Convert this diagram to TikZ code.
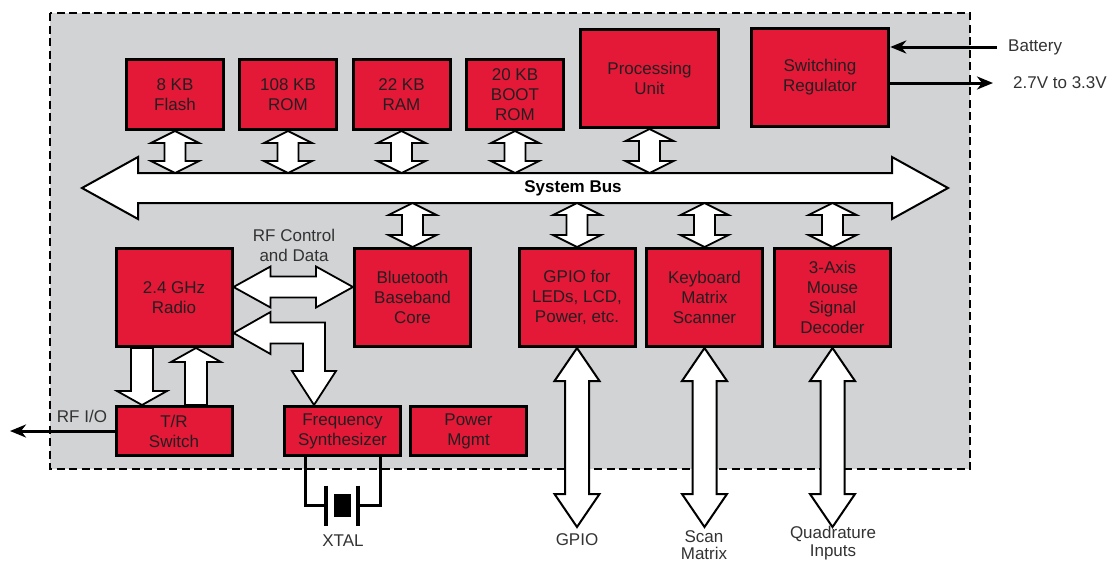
\documentclass[tikz,border=0pt]{standalone}
\usepackage{fontspec}
\setmainfont{Liberation Sans}
\usetikzlibrary{positioning,calc,arrows.meta,backgrounds}
\definecolor{chipgray}{RGB}{209,211,212}
\definecolor{blockred}{RGB}{228,24,55}
\definecolor{inkdark}{RGB}{35,31,32}
\tikzset{>={Stealth[length=16pt,width=13pt,inset=5pt]}}
\tikzset{
  link head/.store in=\linkhead, link tip/.store in=\linktip, link shaft/.store in=\linkshaft,
  link head=24pt, link tip=12pt, link shaft=10.5pt,
  block/.style={draw=black,fill=blockred,line width=3pt,inner sep=0pt,align=center,text=inkdark},
  topbox/.style={block,minimum width=97pt,minimum height=70pt},
  bigbox/.style={block,minimum width=137.5pt,minimum height=98pt},
  midbox/.style={block,minimum width=116pt,minimum height=98pt},
  lowbox/.style={block,minimum width=116pt,minimum height=49pt},
  outtext/.style={inner sep=0pt,align=center,text=black!80},
  chip frame/.style={fill=chipgray,draw=black,line width=2.4pt,dash pattern=on 8pt off 4.5pt},
  wire/.style={draw=black,line width=3pt},
  plate/.style={draw=black,line width=3.5pt},
  link body/.style={draw=black,fill=white,line width=1.8pt,line join=miter},
  vlink/.style={link body,
    to path={let \p1=(\tikztostart), \p2=(\tikztotarget) in
      -- (\x1+\linkhead,\y1-\linktip) -- (\x1+\linkshaft,\y1-\linktip)
      -- (\x1+\linkshaft,\y2+\linktip) -- (\x1+\linkhead,\y2+\linktip)
      -- (\x1,\y2) -- (\x1-\linkhead,\y2+\linktip) -- (\x1-\linkshaft,\y2+\linktip)
      -- (\x1-\linkshaft,\y1-\linktip) -- (\x1-\linkhead,\y1-\linktip) -- cycle}},
  hlink/.style={link body,
    to path={let \p1=(\tikztostart), \p2=(\tikztotarget) in
      -- (\x1+\linktip,\y1+\linkhead) -- (\x1+\linktip,\y1+\linkshaft)
      -- (\x2-\linktip,\y1+\linkshaft) -- (\x2-\linktip,\y1+\linkhead)
      -- (\x2,\y1) -- (\x2-\linktip,\y1-\linkhead) -- (\x2-\linktip,\y1-\linkshaft)
      -- (\x1+\linktip,\y1-\linkshaft) -- (\x1+\linktip,\y1-\linkhead) -- cycle}},
  vsingle/.style={link body,
    to path={let \p1=(\tikztostart), \p2=(\tikztotarget), \n1={ifthenelse(\y1>\y2,1,-1)} in
      (\x1-\linkshaft,\y1) -- (\x1+\linkshaft,\y1) -- (\x1+\linkshaft,\y2+\n1*\linktip)
      -- (\x1+\linkhead,\y2+\n1*\linktip) -- (\x1,\y2) -- (\x1-\linkhead,\y2+\n1*\linktip)
      -- (\x1-\linkshaft,\y2+\n1*\linktip) -- cycle}},
}

\begin{document}
\begin{tikzpicture}[x=1pt,y=-1pt,font=\fontsize{17}{20}\selectfont]
\useasboundingbox (0,0) rectangle (1116,563);
% top row
\node[topbox] (flash) at (175,94.5) {8 KB\\Flash};
\node[topbox] (rom) at (288,94.5) {108 KB\\ROM};
\node[topbox] (ram) at (401.5,94.5) {22 KB\\RAM};
\node[topbox] (boot) at (515,94.5) {20 KB\\BOOT\\ROM};
\node[bigbox] (proc) at (649.5,78.5) {Processing\\Unit};
\node[bigbox] (reg) at (820,77.5) {Switching\\Regulator};
% middle row
\node[midbox] (radio) at (174,297.5) {2.4 GHz\\Radio};
\node[midbox] (bt) at (412.5,297.5) {Bluetooth\\Baseband\\Core};
\node[midbox] (gpio) at (577,297.5) {GPIO for\\LEDs, LCD,\\Power, etc.};
\node[midbox] (kbd) at (704.5,297.5) {Keyboard\\Matrix\\Scanner};
\node[midbox] (mouse) at (832.5,297.5) {3-Axis\\Mouse\\Signal\\Decoder};
% bottom row
\node[lowbox] (trsw) at (174,431) {T/R\\Switch};
\node[lowbox] (freq) at (342.5,431) {Frequency\\Synthesizer};
\node[lowbox] (pwr) at (468.5,431) {Power\\Mgmt};
\coordinate (bus w) at (82,188);
\coordinate (bus e) at (948,188);
\coordinate (bus n) at (573,173);
\coordinate (bus s) at (573,203);
\coordinate (io) at (573,527);
\coordinate (rf a) at ($(radio.east)+(0,-10.5)$);
\coordinate (rf b) at ($(bt.west)+(0,-10.5)$);
\coordinate (synth a) at ($(radio.east)+(0,35.5)$);
\coordinate (synth b) at ($(freq.north)+(-28.5,0)$);
\begin{scope}[on background layer]
\fill[white] (0,0) rectangle (1116,563);
\draw[chip frame] (50,13) rectangle (970,469);
% system bus
\draw[hlink,link head=31pt,link tip=56pt,link shaft=15pt,line width=2pt] (bus w) to (bus e);
\draw[vlink] (flash.south) to (flash.south |- bus n);
\draw[vlink] (rom.south) to (rom.south |- bus n);
\draw[vlink] (ram.south) to (ram.south |- bus n);
\draw[vlink] (boot.south) to (boot.south |- bus n);
\draw[vlink] (proc.south) to (proc.south |- bus n);
\draw[vlink] (bt.north |- bus s) to (bt.north);
\draw[vlink] (gpio.north |- bus s) to (gpio.north);
\draw[vlink] (kbd.north |- bus s) to (kbd.north);
\draw[vlink] (mouse.north |- bus s) to (mouse.north);
% radio links
\draw[hlink,link head=20.5pt,link tip=37pt] (rf a) to (rf b);
\draw[link body] let \p1=(synth a), \p2=(synth b) in
  (\p1) -- (\x1+37pt,\y1+21pt) -- (\x1+37pt,\y1+10.5pt) -- (\x2+11pt,\y1+10.5pt)
  -- (\x2+11pt,\y2+34pt) -- (\x2+22pt,\y2+34pt) -- (\p2) -- (\x2-22pt,\y2+34pt)
  -- (\x2-11pt,\y2+34pt) -- (\x2-11pt,\y1-10.5pt) -- (\x1+37pt,\y1-10.5pt)
  -- (\x1+37pt,\y1-21pt) -- cycle;
\draw[vsingle,link head=25pt,link tip=14pt,link shaft=11pt] ($(radio.south)+(-32,0)$) to ($(trsw.north)+(-32,0)$);
\draw[vsingle,link head=25pt,link tip=14pt,link shaft=11pt] ($(trsw.north)+(22,0)$) to ($(radio.south)+(22,0)$);
% outside links
\draw[vlink,link head=22.5pt,link tip=33pt,link shaft=12pt,line width=2pt] (gpio.south) to (gpio.south |- io);
\draw[vlink,link head=22.5pt,link tip=33pt,link shaft=12pt,line width=2pt] (kbd.south) to (kbd.south |- io);
\draw[vlink,link head=22.5pt,link tip=33pt,link shaft=12pt,line width=2pt] (mouse.south) to (mouse.south |- io);
\end{scope}
\node[font=\fontsize{17}{20}\selectfont\bfseries,inner sep=0pt] (bus label) at (573,188) {System Bus};
\node[outtext] (rf text) at (294,245) {RF Control\\and Data};
% power
\node[outtext,anchor=west] (battery) at (1008,47) {Battery};
\node[outtext,anchor=west] (volt) at (1013,83) {2.7V to 3.3V};
\draw[wire,->] ($(battery.west)+(-11,0)$) -- (battery.west -| reg.east);
\draw[wire,->] (volt.west -| reg.east) -- ($(volt.west)+(-20,0)$);
% rf output
\node[outtext] (rfio text) at (82,416) {RF I/O};
\coordinate (rfio) at (10,431);
\draw[wire,->] (trsw.west) -- (rfio);
% crystal
\node[fill=black,minimum width=17pt,minimum height=23pt,inner sep=0pt] (xtal) at (342.5,505.5) {};
\draw[plate] ($(xtal)+(-16.5,-20)$) -- ($(xtal)+(-16.5,20)$);
\draw[plate] ($(xtal)+(15.5,-20)$) -- ($(xtal)+(15.5,20)$);
\draw[wire] ($(freq.south)+(-37.5,0)$) |- ($(xtal)+(-16.5,0)$);
\draw[wire] ($(freq.south)+(37.5,0)$) |- ($(xtal)+(15.5,0)$);
\node[outtext] (xtal text) at (343,541) {XTAL};
% io labels
\node[outtext] (gpio text) at (577,540) {GPIO};
\node[outtext,font=\fontsize{17}{17.5}\selectfont] (scan text) at (704,545) {Scan\\Matrix};
\node[outtext,font=\fontsize{17}{17.5}\selectfont] (quad text) at (833,543) {Quadrature\\Inputs};
\end{tikzpicture}
\end{document}
